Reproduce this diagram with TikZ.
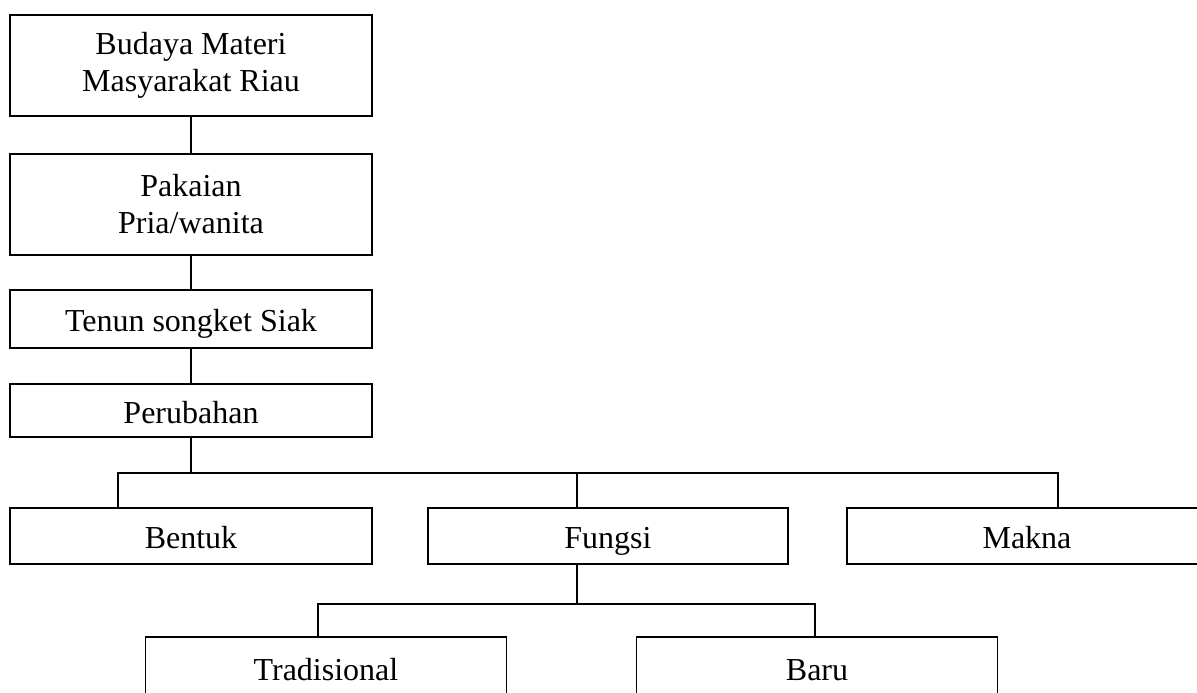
\documentclass[tikz,border=0pt]{standalone}
\usepackage{fontspec}
\setmainfont{Liberation Serif}
\usetikzlibrary{positioning}

\begin{document}
\begin{tikzpicture}[x=1pt,y=-1pt,
    box/.style={draw, line width=1.5pt, outer sep=0pt, inner sep=0pt, align=center,
      minimum width=362pt, font=\fontsize{32}{37}\selectfont},
    tall/.style={box, minimum height=101pt},
    flat/.style={box, minimum height=56pt, text height=25pt, text depth=0pt},
    link/.style={line width=1.5pt}]
        \useasboundingbox (0,0) rectangle (1197,693);
        % Nodes
        \node[tall] (budaya) at (191,65.5) {Budaya Materi\\Masyarakat Riau};
        \node[tall, below=38pt of budaya]    (pakaian) {Pakaian\\Pria/wanita};
        \node[flat, minimum height=58pt, below=35pt of pakaian] (tenun) {Tenun songket Siak};
        \node[flat, minimum height=53pt, below=36pt of tenun]   (perubahan) {Perubahan};

        \node[flat, below=71pt of perubahan] (bentuk) {Bentuk};
        \node[flat, minimum width=360pt, right=56pt of bentuk] (fungsi) {Fungsi};
        \node[flat, minimum width=360pt, right=59pt of fungsi] (makna)  {Makna};

        \node[flat, minimum width=361pt, minimum height=62pt, below=73pt of bentuk, xshift=135pt] (tradisional) {Tradisional};
        \node[flat, minimum width=361pt, minimum height=62pt, right=130pt of tradisional] (baru) {Baru};

        % Junctions
        \coordinate (busL) at (118,473);
        \coordinate (busF) at (577,473);
        \coordinate (busR) at (1058,473);
        \coordinate (subL) at (318,604);
        \coordinate (subR) at (815,604);

        % Connectors
        \draw[link] (budaya.south)  -- (pakaian.north);
        \draw[link] (pakaian.south) -- (tenun.north);
        \draw[link] (tenun.south)   -- (perubahan.north);
        \draw[link] (perubahan.south) -- (perubahan.south |- busL);
        \draw[link] (busL |- bentuk.north) -- (busL) -- (busR) -- (busR |- makna.north);
        \draw[link] (busF) -- (busF |- fungsi.north);
        \draw[link] (busF |- fungsi.south) -- (busF |- subL);
        \draw[link] (subL |- tradisional.north) -- (subL) -- (subR) -- (subR |- baru.north);
\end{tikzpicture}
\end{document}
